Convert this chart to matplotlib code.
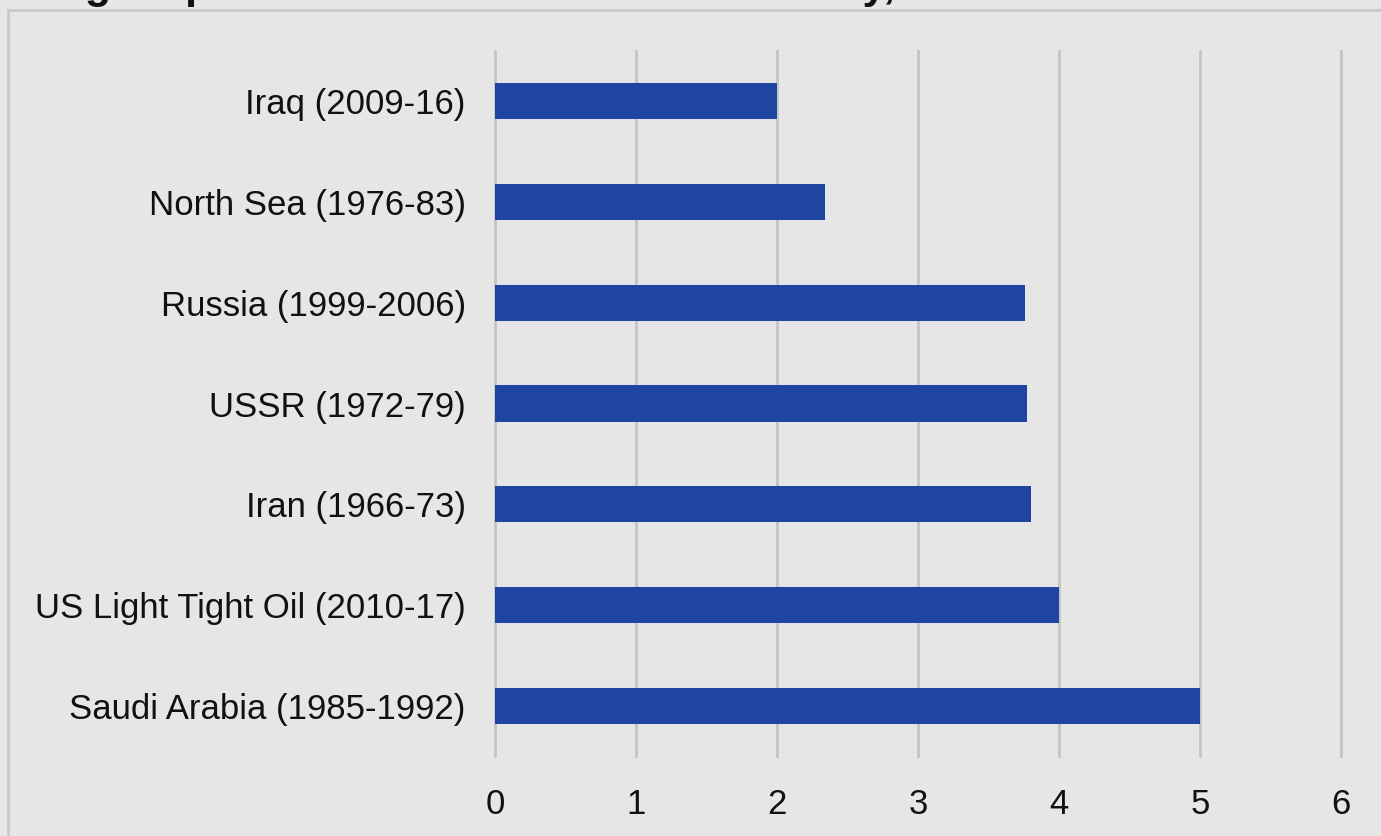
import matplotlib
matplotlib.use("Agg")
import matplotlib.pyplot as plt
from matplotlib.patches import Rectangle

categories = ["Saudi Arabia (1985-1992)", "US Light Tight Oil (2010-17)", "Iran (1966-73)",
              "USSR (1972-79)", "Russia (1999-2006)", "North Sea (1976-83)", "Iraq (2009-16)"]
values = [5.0, 4.0, 3.80, 3.77, 3.76, 2.34, 2.0]
xticks = [0, 1, 2, 3, 4, 5, 6]
title = "Largest production increases in oil history, mbd"

plt.rcParams['font.family'] = ['Liberation Sans', 'DejaVu Sans']
W, H = 1381, 836
fig = plt.figure(figsize=(W/100, H/100), dpi=100)
bg = "#e6e6e6"
fig.patch.set_facecolor(bg)

# frame
fig.patches.append(Rectangle((8/W, -0.1), 1.2, (836-10)/H + 0.1, transform=fig.transFigure,
                             fill=False, edgecolor="#c8c8c8", linewidth=2))
fig.text(18/W, 1 - 7/H, title, fontsize=31, fontweight='bold', va='bottom', ha='left', color='#111111')

ax = fig.add_axes([495/W, 80/H, (1341-495)/W, (756-51)/H])
ax.set_facecolor(bg)
y = range(len(categories))
ax.barh(y, values, height=0.36, color="#1f45a3", zorder=3)
ax.set_ylim(-0.5, 6.5)
ax.set_xlim(0, 6)
ax.set_yticks(list(y))
ax.set_yticklabels(categories, fontsize=25, color='#111111')
ax.set_xticks(xticks)
ax.set_xticklabels([str(t) for t in xticks], fontsize=25, color='#111111')
ax.tick_params(axis='both', length=0)
ax.tick_params(axis='y', pad=21)
ax.tick_params(axis='x', pad=23)
ax.grid(axis='x', color='#c4c4c4', linewidth=2, zorder=0)
for gl in ax.get_xgridlines():
    gl.set_clip_on(False)
for s in ax.spines.values():
    s.set_visible(False)

fig.savefig("out.png", dpi=100, facecolor=bg)
